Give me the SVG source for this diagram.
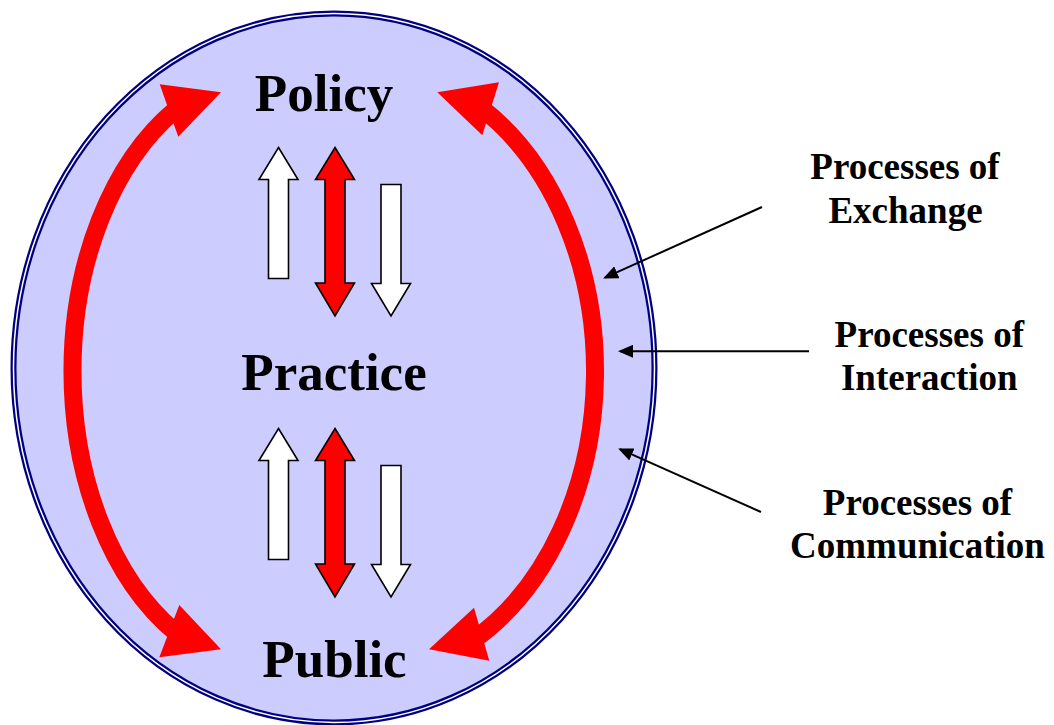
<svg xmlns="http://www.w3.org/2000/svg" width="1054" height="725" viewBox="0 0 1054 725">
<style>
.big{font-family:"Liberation Serif","Times New Roman",serif;font-weight:bold;font-size:53px;fill:#000;text-anchor:middle}
.lbl{font-family:"Liberation Serif","Times New Roman",serif;font-weight:bold;font-size:37px;fill:#000;text-anchor:middle}
.arc{fill:none;stroke:#FF0000;stroke-width:18}
.head{fill:#FF0000;stroke:none}
.wa{fill:#FFFFFF;stroke:#000;stroke-width:1.6;stroke-linejoin:miter}
.ra{fill:#FF0000;stroke:#000;stroke-width:1.6;stroke-linejoin:miter}
.ptr{stroke:#000;stroke-width:2;fill:none}
</style>
<defs>
<marker id="ah" markerUnits="userSpaceOnUse" viewBox="0 0 15 13" refX="13" refY="6.5" markerWidth="15" markerHeight="13" orient="auto">
<path d="M0,0 L15,6.5 L0,13 z" fill="#000"/>
</marker>
<g id="vset">
<polygon class="wa" points="278.5,147.5 298,179.5 288.5,179.5 288.5,278.5 268.5,278.5 268.5,179.5 259,179.5"/>
<polygon class="ra" points="335,147.5 354.5,179.5 345,179.5 345,283 354.5,283 335,316 315.5,283 325,283 325,179.5 315.5,179.5"/>
<polygon class="wa" points="381,184.5 401,184.5 401,283.5 410.5,283.5 391,316 371.5,283.5 381,283.5"/>
</g>
</defs>
<rect width="1054" height="725" fill="#FFFFFF"/>
<g id="circle">
<ellipse cx="334" cy="368" rx="320.5" ry="354.5" fill="#CCCCFF" stroke="#000080" stroke-width="6"/>
<ellipse cx="334" cy="368" rx="320.5" ry="354.5" fill="none" stroke="#FFFFFF" stroke-width="1.5"/>
</g>
<g id="connectors">
<path class="arc" d="M175.6,109.6 A202.5,300 0 0 0 175.6,632.4"/>
<polygon class="head" points="221,92.3 159.7,84.3 178.3,136.7"/>
<polygon class="head" points="221,649.3 179.3,605 159.3,657.3"/>
<path class="arc" d="M481.5,108 A230,305 0 0 1 473.4,640"/>
<polygon class="head" points="437.3,92.3 499,82.3 482.3,135.3"/>
<polygon class="head" points="429,649.3 474,607.7 489.3,660.7"/>
<use href="#vset"/>
<use href="#vset" transform="translate(0,281)"/>
<line class="ptr" x1="762" y1="207" x2="605" y2="277.6" marker-end="url(#ah)"/>
<line class="ptr" x1="809" y1="351.3" x2="620" y2="351.3" marker-end="url(#ah)"/>
<line class="ptr" x1="761" y1="512" x2="620" y2="449.2" marker-end="url(#ah)"/>
</g>
<g id="policy"><text class="big" x="324" y="110.7">Policy</text></g>
<g id="practice"><text class="big" x="334" y="390">Practice</text></g>
<g id="public"><text class="big" x="334.5" y="677">Public</text></g>
<g id="exchange"><text class="lbl" x="905" y="179.3">Processes of</text><text class="lbl" x="905.5" y="222.7">Exchange</text></g>
<g id="interaction"><text class="lbl" x="929.3" y="347.3">Processes of</text><text class="lbl" x="929.3" y="390">Interaction</text></g>
<g id="communication"><text class="lbl" x="917.5" y="515">Processes of</text><text class="lbl" x="917.5" y="558.3">Communication</text></g>
</svg>
